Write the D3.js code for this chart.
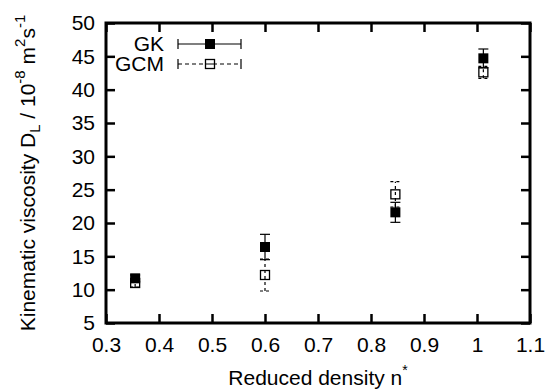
<!DOCTYPE html>
<html>
<head>
<meta charset="utf-8">
<script src="https://cdn.jsdelivr.net/npm/d3@7"></script>
<style>
  body { margin: 0; background: #fff; }
  text { font-family: "Liberation Sans", Arial, sans-serif; fill: #000; }
</style>
</head>
<body>
<div id="chart"></div>
<script>
// reduced density n*
const density = [0.355, 0.6, 0.846, 1.012];
// GK kinematic viscosity and error
const gkVisc = [11.7, 16.4, 21.6, 44.7];
const gkErr = [0.5, 1.9, 1.5, 1.4];
// GCM
const gcmVisc = [11.0, 12.2, 24.3, 42.6];
const gcmErr = [0.6, 2.4, 1.9, 0.9];

const xTicks = [0.3, 0.4, 0.5, 0.6, 0.7, 0.8, 0.9, 1, 1.1];
const yTicks = [5, 10, 15, 20, 25, 30, 35, 40, 45, 50];

const width = 545, height = 392;
const margin = { top: 23, right: 15, bottom: 69, left: 106 };
const fontSize = 21;

const svg = d3.select('#chart')
  .append('svg')
  .attr('width', width)
  .attr('height', height);

const x = d3.scaleLinear().domain([0.3, 1.1]).range([margin.left, width - margin.right]);
const y = d3.scaleLinear().domain([5, 50]).range([height - margin.bottom, margin.top]);

const tickLen = 9;

// inward ticks on all four sides
svg.append('g')
  .attr('transform', `translate(0,${y(5)})`)
  .call(d3.axisBottom(x).tickValues(xTicks).tickSizeInner(-tickLen).tickSizeOuter(0).tickPadding(14).tickFormat(d3.format('~g')));
svg.append('g')
  .attr('transform', `translate(${x(0.3)},0)`)
  .call(d3.axisLeft(y).tickValues(yTicks).tickSizeInner(-tickLen).tickSizeOuter(0).tickPadding(11));
svg.append('g')
  .attr('transform', `translate(0,${y(50)})`)
  .call(d3.axisTop(x).tickValues(xTicks).tickSizeInner(-tickLen).tickSizeOuter(0).tickFormat(''));
svg.append('g')
  .attr('transform', `translate(${x(1.1)},0)`)
  .call(d3.axisRight(y).tickValues(yTicks).tickSizeInner(-tickLen).tickSizeOuter(0).tickFormat(''));

svg.selectAll('.domain').remove();
svg.selectAll('.tick line').attr('stroke', '#000').attr('stroke-width', 2.5);
svg.selectAll('.tick text').attr('font-size', fontSize).attr('font-family', '"Liberation Sans", Arial, sans-serif');

// frame
svg.append('rect')
  .attr('x', x(0.3))
  .attr('y', y(50))
  .attr('width', x(1.1) - x(0.3))
  .attr('height', y(5) - y(50))
  .attr('fill', 'none')
  .attr('stroke', '#000')
  .attr('stroke-width', 3);

const capW = 5;

function drawSeries(values, errs, filled, dash) {
  const g = svg.append('g');
  const pts = density.map((d, i) => ({ x: d, v: values[i], e: errs[i] }));
  const eb = g.selectAll('g.eb').data(pts).enter().append('g')
    .attr('stroke', '#000').attr('stroke-width', 1.2)
    .attr('stroke-dasharray', dash);
  eb.append('line')
    .attr('x1', d => x(d.x)).attr('x2', d => x(d.x))
    .attr('y1', d => y(d.v - d.e)).attr('y2', d => y(d.v + d.e));
  eb.append('line')
    .attr('x1', d => x(d.x) - capW).attr('x2', d => x(d.x) + capW)
    .attr('y1', d => y(d.v + d.e)).attr('y2', d => y(d.v + d.e));
  eb.append('line')
    .attr('x1', d => x(d.x) - capW).attr('x2', d => x(d.x) + capW)
    .attr('y1', d => y(d.v - d.e)).attr('y2', d => y(d.v - d.e));
  const s = filled ? 10 : 9;
  g.selectAll('rect').data(pts).enter().append('rect')
    .attr('x', d => x(d.x) - s / 2)
    .attr('y', d => y(d.v) - s / 2)
    .attr('width', s).attr('height', s)
    .attr('fill', filled ? '#000' : 'none')
    .attr('stroke', '#000')
    .attr('stroke-width', filled ? 0 : 1.3);
}

drawSeries(gcmVisc, gcmErr, false, '3,3');
drawSeries(gkVisc, gkErr, true, null);

// legend
const legend = [
  { label: 'GK', filled: true, dash: null, yy: 44 },
  { label: 'GCM', filled: false, dash: '4,3', yy: 64 },
];
legend.forEach(l => {
  const g = svg.append('g');
  g.append('text')
    .attr('x', 164).attr('y', l.yy).attr('dy', '0.35em')
    .attr('text-anchor', 'end').attr('font-size', fontSize)
    .text(l.label);
  g.append('line')
    .attr('x1', 178).attr('x2', 241).attr('y1', l.yy).attr('y2', l.yy)
    .attr('stroke', '#000').attr('stroke-width', 1.2).attr('stroke-dasharray', l.dash);
  [178, 241].forEach(cx => g.append('line')
    .attr('x1', cx).attr('x2', cx).attr('y1', l.yy - 5).attr('y2', l.yy + 5)
    .attr('stroke', '#000').attr('stroke-width', 1.2));
  const s = l.filled ? 10 : 9;
  g.append('rect')
    .attr('x', 210 - s / 2).attr('y', l.yy - s / 2)
    .attr('width', s).attr('height', s)
    .attr('fill', l.filled ? '#000' : '#fff')
    .attr('stroke', '#000').attr('stroke-width', l.filled ? 0 : 1.3);
  if (!l.filled) {
    g.append('line')
      .attr('x1', 210 - s / 2).attr('x2', 210 + s / 2).attr('y1', l.yy).attr('y2', l.yy)
      .attr('stroke', '#000').attr('stroke-width', 1);
  }
});

// axis titles
svg.append('text')
  .attr('x', (x(0.3) + x(1.1)) / 2)
  .attr('y', 385)
  .attr('text-anchor', 'middle')
  .attr('font-size', fontSize)
  .call(t => {
    t.append('tspan').text('Reduced density n');
    t.append('tspan').attr('dy', -10).attr('font-size', 14).text('*');
  });

const yt = svg.append('text')
  .attr('transform', `translate(35,${(y(5) + y(50)) / 2}) rotate(-90)`)
  .attr('text-anchor', 'middle')
  .attr('font-size', fontSize);
yt.append('tspan').text('Kinematic viscosity D');
yt.append('tspan').attr('dy', 5).attr('font-size', 15).text('L');
yt.append('tspan').attr('dy', -5).text(' / 10');
yt.append('tspan').attr('dy', -10).attr('font-size', 15).text('-8');
yt.append('tspan').attr('dy', 10).text(' m');
yt.append('tspan').attr('dy', -10).attr('font-size', 15).text('2');
yt.append('tspan').attr('dy', 10).text('s');
yt.append('tspan').attr('dy', -10).attr('font-size', 15).text('-1');
</script>
</body>
</html>
